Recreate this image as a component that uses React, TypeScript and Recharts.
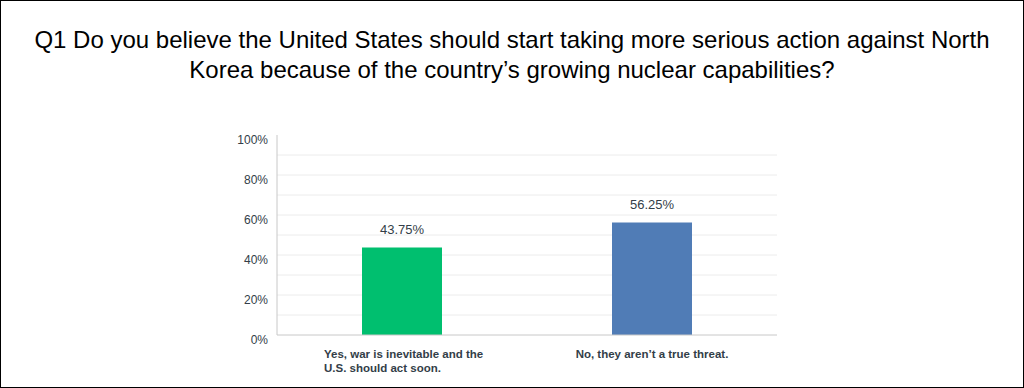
import { BarChart, Bar, XAxis, YAxis, CartesianGrid, LabelList, Cell } from "recharts";

const titleLines = [
    "Q1 Do you believe the United States should start taking more serious action against North",
    "Korea because of the country\u2019s growing nuclear capabilities?",
];

const answers = [
    ["Yes, war is inevitable and the", "U.S. should act soon."],
    ["No, they aren\u2019t a true threat."],
];
const shares = [43.75, 56.25];
const barColors = ["#00BF6F", "#507CB6"];
const yTicks = [0, 20, 40, 60, 80, 100];
const gridValues = [10, 20, 30, 40, 50, 60, 70, 80, 90];

const data = answers.map((lines, i) => ({ name: lines.join(" "), lines, value: shares[i] }));

const FONT = "'Liberation Sans', Arial, sans-serif";

function YTick(props: any) {
    const { x, y, payload } = props;
    return (
        <text x={x} y={y + 9} textAnchor="end" fill="#333e48" fontSize={12} fontFamily={FONT}>
            {payload.value}%
        </text>
    );
}

function XTick(props: any) {
    const { x, y, index } = props;
    const lines = answers[index] || [];
    const multi = lines.length > 1;
    // multi-line labels are left aligned, block roughly centred under the bar
    const left = x - 78;
    return (
        <text
            x={multi ? left : x}
            y={y + 15}
            textAnchor={multi ? "start" : "middle"}
            fill="#333e48"
            fontSize={11.5}
            fontWeight="bold"
            fontFamily={FONT}
        >
            {lines.map((l, i) => (
                <tspan key={i} x={multi ? left : x} dy={i === 0 ? 0 : 14}>
                    {l}
                </tspan>
            ))}
        </text>
    );
}

export default function App() {
    return (
        <div style={{ position: "fixed", left: 0, top: 0, width: 1024, height: 388, background: "#fff", overflow: "hidden" }}>
            <div
                style={{
                    position: "absolute",
                    left: 0,
                    top: 25,
                    width: 1024,
                    textAlign: "center",
                    fontFamily: FONT,
                    fontSize: 24,
                    lineHeight: "30px",
                    color: "#000",
                }}
            >
                {titleLines.map((t) => (
                    <div key={t}>{t}</div>
                ))}
            </div>
            <div style={{ position: "absolute", left: 0, top: 0 }}>
                <BarChart
                    width={1024}
                    height={388}
                    data={data}
                    margin={{ top: 135, right: 247, bottom: 13, left: 217 }}
                >
                    <CartesianGrid vertical={false} stroke="#ececec" horizontalValues={gridValues} />
                    <XAxis
                        dataKey="name"
                        tick={<XTick />}
                        tickLine={false}
                        axisLine={{ stroke: "#c8c8c8" }}
                        height={40}
                        interval={0}
                    />
                    <YAxis
                        domain={[0, 100]}
                        ticks={yTicks}
                        tick={<YTick />}
                        tickLine={false}
                        tickSize={0}
                        tickMargin={9}
                        axisLine={{ stroke: "#c8c8c8" }}
                        width={60}
                        interval={0}
                    />
                    <Bar dataKey="value" barSize={80} isAnimationActive={false}>
                        {data.map((d, i) => (
                            <Cell key={d.name} fill={barColors[i]} />
                        ))}
                        <LabelList
                            dataKey="value"
                            position="top"
                            offset={14}
                            formatter={(v: any) => `${Number(v).toFixed(2)}%`}
                            fill="#333e48"
                            fontSize={13}
                            fontFamily={FONT}
                        />
                    </Bar>
                </BarChart>
            </div>
            <div
                style={{
                    position: "absolute",
                    left: 0,
                    top: 0,
                    width: 1024,
                    height: 388,
                    boxSizing: "border-box",
                    border: "1px solid #000",
                    pointerEvents: "none",
                }}
            />
        </div>
    );
}
